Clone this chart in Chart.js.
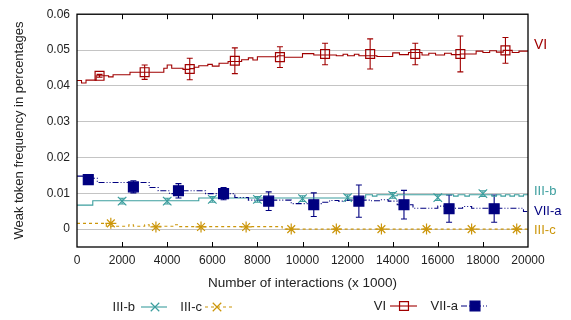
<!DOCTYPE html>
<html>
<head>
<meta charset="utf-8">
<script src="https://cdn.jsdelivr.net/npm/chart.js@4"></script>
<style>
  body { margin: 0; background: #fff; }
  canvas { display: block; }
</style>
</head>
<body>
<canvas id="grafico" width="571" height="320"></canvas>
<script>
// series names and colours
const series = ['III-b', 'III-c', 'VI', 'VII-a']
const colores = {
  'III-b': 'rgb(60,158,158)',
  'III-c': 'rgb(204,150,10)',
  'VI': 'rgb(160,0,0)',
  'VII-a': 'rgb(0,0,128)'
}

// x tick labels
const xTicks = [0, 2000, 4000, 6000, 8000, 10000, 12000, 14000, 16000, 18000, 20000]
const yTicks = [0, 0.01, 0.02, 0.03, 0.04, 0.05, 0.06]

// step lines (value holds until the next x)
const viStepX = [0, 200, 400, 850, 1400, 1600, 2350, 3850, 4000, 4200, 4700, 5000, 5200, 5400, 5800, 6000, 6300, 6700, 7300, 7600, 7800, 8000, 8900, 9200, 10000, 10500, 11500, 11800, 12000, 12300, 12500, 13300, 14000, 14300, 14700, 15300, 15600, 15900, 16300, 16600, 17000, 17700, 18000, 18300, 18600, 18900, 19300, 19600, 20000]
const viStepY = [0.0415, 0.0408, 0.0416, 0.0428, 0.0425, 0.0431, 0.0438, 0.0449, 0.0458, 0.0449, 0.0446, 0.0448, 0.0452, 0.0456, 0.0460, 0.0455, 0.0463, 0.0468, 0.0473, 0.0478, 0.0472, 0.0481, 0.0484, 0.0480, 0.0490, 0.0486, 0.0484, 0.0488, 0.0484, 0.0488, 0.0484, 0.0482, 0.0492, 0.0487, 0.0493, 0.0486, 0.0491, 0.0486, 0.0491, 0.0487, 0.0489, 0.0497, 0.0493, 0.0498, 0.0494, 0.0499, 0.0493, 0.0497, 0.0499]

const iiibStepX = [0, 700, 5400, 12800, 13100, 13300, 14000, 14200, 16700, 16900, 17200, 17400, 18400, 18600, 18800, 19000, 19200, 19400, 19600, 19800, 20000]
const iiibStepY = [0.0067, 0.0079, 0.0087, 0.0096, 0.0092, 0.0096, 0.0093, 0.0096, 0.0092, 0.0096, 0.0092, 0.0096, 0.0092, 0.0096, 0.0092, 0.0096, 0.0092, 0.0096, 0.0092, 0.0096, 0.0096]

const iiicStepX = [0, 1300, 2300, 2500, 3000, 3200, 4300, 4500, 9100, 20000]
const iiicStepY = [0.0016, 0.0008, 0.0012, 0.0008, 0.0012, 0.0008, 0.0012, 0.0007, 0.0000, 0.0000]

const viiaStepX = [0, 300, 900, 3200, 3600, 4100, 4400, 5700, 7000, 7600, 9500, 10900, 11200, 11600, 12000, 13000, 13500, 13800, 14200, 14900, 16000, 16400, 17100, 17500, 19800, 20000]
const viiaStepY = [0.0148, 0.0142, 0.0130, 0.0116, 0.0107, 0.0099, 0.0107, 0.0099, 0.0088, 0.0081, 0.0071, 0.0075, 0.0080, 0.0078, 0.0081, 0.0079, 0.0082, 0.0078, 0.0068, 0.0058, 0.0064, 0.0058, 0.0063, 0.0058, 0.0049, 0.0049]

// markers with error bars
const viMarkX = [1000, 3000, 5000, 7000, 9000, 11000, 13000, 15000, 17000, 19000]
const viMarkY = [0.0428, 0.0438, 0.0447, 0.0470, 0.0480, 0.0489, 0.0489, 0.0489, 0.0489, 0.0499]
const viErr = [0.0004, 0.0020, 0.0030, 0.0036, 0.0029, 0.0030, 0.0042, 0.0030, 0.0050, 0.0036]

const iiibMarkX = [2000, 4000, 6000, 8000, 10000, 12000, 14000, 16000, 18000]
const iiibMarkY = [0.0078, 0.0078, 0.0083, 0.0083, 0.0085, 0.0088, 0.0094, 0.0088, 0.0099]
const iiibErr = [0.0008, 0.0008, 0.0008, 0.0008, 0.0008, 0.0008, 0.0008, 0.0008, 0.0008]

const iiicMarkX = [1500, 3500, 5500, 7500, 9500, 11500, 13500, 15500, 17500, 19500]
const iiicMarkY = [0.0016, 0.0006, 0.0006, 0.0006, 0.0000, 0.0000, 0.0000, 0.0000, 0.0000, 0.0000]

const viiaMarkX = [500, 2500, 4500, 6500, 8500, 10500, 12500, 14500, 16500, 18500]
const viiaMarkY = [0.0138, 0.0118, 0.0107, 0.0099, 0.0078, 0.0068, 0.0078, 0.0068, 0.0057, 0.0057]
const viiaErr = [0.0003, 0.0017, 0.0020, 0.0017, 0.0026, 0.0033, 0.0045, 0.0040, 0.0038, 0.0038]

const puntos = (xs, ys) => xs.map((x, i) => ({ x: x, y: ys[i] }))

const fuente = 'Liberation Sans, Arial, sans-serif'
const textoColor = '#222'

const estilos = {
  'III-b': { style: 'crossRot', radius: 6, dash: [] },
  'III-c': { style: 'star', radius: 5.5, dash: [3, 3] },
  'VI': { style: 'rect', radius: 6.3, dash: [] },
  'VII-a': { style: 'rect', radius: 7, dash: [6, 2, 1, 2, 1, 2], fill: true }
}

function marcas(nombre, xs, ys) {
  const e = estilos[nombre]
  return {
    label: nombre + ' marks',
    data: puntos(xs, ys),
    showLine: false,
    pointStyle: e.style,
    pointRadius: e.radius,
    pointBorderWidth: 1.2,
    pointBorderColor: colores[nombre],
    pointBackgroundColor: e.fill ? colores[nombre] : 'rgba(0,0,0,0)'
  }
}

function linea(nombre, xs, ys) {
  return {
    label: nombre,
    data: puntos(xs, ys),
    stepped: true,
    borderColor: colores[nombre],
    borderWidth: 1.1,
    borderDash: estilos[nombre].dash,
    pointRadius: 0,
    fill: false
  }
}

const barras = [
  { nombre: 'VI', xs: viMarkX, ys: viMarkY, err: viErr },
  { nombre: 'III-b', xs: iiibMarkX, ys: iiibMarkY, err: iiibErr },
  { nombre: 'VII-a', xs: viiaMarkX, ys: viiaMarkY, err: viiaErr }
]

const errorBars = {
  id: 'errorBars',
  beforeDatasetsDraw(chart) {
    const ctx = chart.ctx
    const sx = chart.scales.x, sy = chart.scales.y
    ctx.save()
    ctx.lineWidth = 1.1
    barras.forEach(b => {
      ctx.strokeStyle = colores[b.nombre]
      b.xs.forEach((x, i) => {
        const px = sx.getPixelForValue(x)
        const top = sy.getPixelForValue(b.ys[i] + b.err[i])
        const bot = sy.getPixelForValue(b.ys[i] - b.err[i])
        ctx.beginPath()
        ctx.moveTo(px, top); ctx.lineTo(px, bot)
        ctx.moveTo(px - 3, top); ctx.lineTo(px + 3, top)
        ctx.moveTo(px - 3, bot); ctx.lineTo(px + 3, bot)
        ctx.stroke()
      })
    })
    ctx.restore()
  }
}

// legend marks: squares for VI / VII-a, an x for III-b and III-c
function dibujarMarca(ctx, nombre, x, y) {
  const e = estilos[nombre]
  ctx.strokeStyle = colores[nombre]
  ctx.fillStyle = colores[nombre]
  ctx.lineWidth = 1.2
  ctx.setLineDash([])
  ctx.beginPath()
  if (e.style === 'rect') {
    const s = Math.SQRT1_2 * e.radius
    ctx.rect(x - s, y - s, 2 * s, 2 * s)
    if (e.fill) ctx.fill()
    ctx.stroke()
  } else {
    const d = Math.SQRT1_2 * 6
    ctx.moveTo(x - d, y - d); ctx.lineTo(x + d, y + d)
    ctx.moveTo(x - d, y + d); ctx.lineTo(x + d, y - d)
    ctx.stroke()
  }
}

const decoracion = {
  id: 'decoracion',
  afterDraw(chart) {
    const ctx = chart.ctx
    const a = chart.chartArea
    const sx = chart.scales.x
    ctx.save()
    // frame
    ctx.strokeStyle = '#000'
    ctx.lineWidth = 1.3
    ctx.strokeRect(a.left, a.top, a.right - a.left, a.bottom - a.top)
    // inward x ticks, top and bottom
    ctx.lineWidth = 1
    ctx.beginPath()
    xTicks.slice(1, -1).forEach(v => {
      const px = Math.round(sx.getPixelForValue(v)) + 0.5
      ctx.moveTo(px, a.bottom); ctx.lineTo(px, a.bottom - 5)
      ctx.moveTo(px, a.top); ctx.lineTo(px, a.top + 5)
    })
    ctx.stroke()

    // labels at the right end
    ctx.textBaseline = 'middle'
    ctx.textAlign = 'left'
    const derecha = { 'VI': 45, 'III-b': 191, 'VII-a': 211, 'III-c': 230 }
    Object.keys(derecha).forEach(n => {
      ctx.font = (n === 'VI' ? '14px ' : '13px ') + fuente
      ctx.fillStyle = colores[n]
      ctx.fillText(n, 534, derecha[n])
    })

    // legend
    const leyenda = [
      { n: 'III-b', tx: 135, l0: 141, l1: 167, mx: 155, y: 307 },
      { n: 'III-c', tx: 202, l0: 205, l1: 232, mx: 217, y: 307 },
      { n: 'VI', tx: 386, l0: 390, l1: 417, mx: 404, y: 306 },
      { n: 'VII-a', tx: 458, l0: 461, l1: 488, mx: 475, y: 306 }
    ]
    leyenda.forEach(it => {
      ctx.fillStyle = textoColor
      ctx.textAlign = 'right'
      ctx.font = '13px ' + fuente
      ctx.fillText(it.n, it.tx, it.y)
      ctx.strokeStyle = colores[it.n]
      ctx.lineWidth = 1.1
      ctx.setLineDash(estilos[it.n].dash)
      ctx.beginPath()
      ctx.moveTo(it.l0, it.y); ctx.lineTo(it.l1, it.y)
      ctx.stroke()
      dibujarMarca(ctx, it.n, it.mx, it.y)
    })
    ctx.restore()
  }
}

const ctx = document.getElementById('grafico').getContext('2d')

const myChart = new Chart(ctx, {
  type: 'line',
  data: {
    datasets: [
      marcas('VII-a', viiaMarkX, viiaMarkY),
      marcas('VI', viMarkX, viMarkY),
      marcas('III-b', iiibMarkX, iiibMarkY),
      marcas('III-c', iiicMarkX, iiicMarkY),
      linea('VII-a', viiaStepX, viiaStepY),
      linea('VI', viStepX, viStepY),
      linea('III-b', iiibStepX, iiibStepY),
      linea('III-c', iiicStepX, iiicStepY)
    ]
  },
  options: {
    responsive: false,
    animation: false,
    layout: { padding: { left: 0, right: 43, top: 10, bottom: 0 } },
    plugins: {
      legend: { display: false },
      tooltip: { enabled: false }
    },
    scales: {
      x: {
        type: 'linear',
        min: 0,
        max: 20000,
        afterBuildTicks: s => { s.ticks = xTicks.map(v => ({ value: v })) },
        afterFit: s => { s.height = 73 },
        ticks: {
          callback: v => String(v),
          font: { family: fuente, size: 12 },
          color: textoColor,
          padding: 6,
          maxRotation: 0,
          autoSkip: false
        },
        grid: { display: false, drawTicks: false },
        border: { display: false },
        title: {
          display: true,
          text: 'Number of interactions (x 1000)',
          font: { family: fuente, size: 13.5 },
          color: textoColor,
          padding: { top: 4, bottom: 29 }
        }
      },
      y: {
        min: -0.005,
        max: 0.06,
        afterBuildTicks: s => { s.ticks = yTicks.map(v => ({ value: v })) },
        afterFit: s => { s.width = 77 },
        ticks: {
          callback: v => v === 0 ? '0' : v.toFixed(2),
          font: { family: fuente, size: 12 },
          color: textoColor,
          padding: 7
        },
        grid: { color: '#c4c4c4', lineWidth: 1, drawTicks: false },
        border: { display: false },
        title: {
          display: true,
          text: 'Weak token frequency in percentages',
          font: { family: fuente, size: 13 },
          color: textoColor,
          padding: { top: 12, bottom: 0 }
        }
      }
    }
  },
  plugins: [errorBars, decoracion]
})
</script>
</body>
</html>
